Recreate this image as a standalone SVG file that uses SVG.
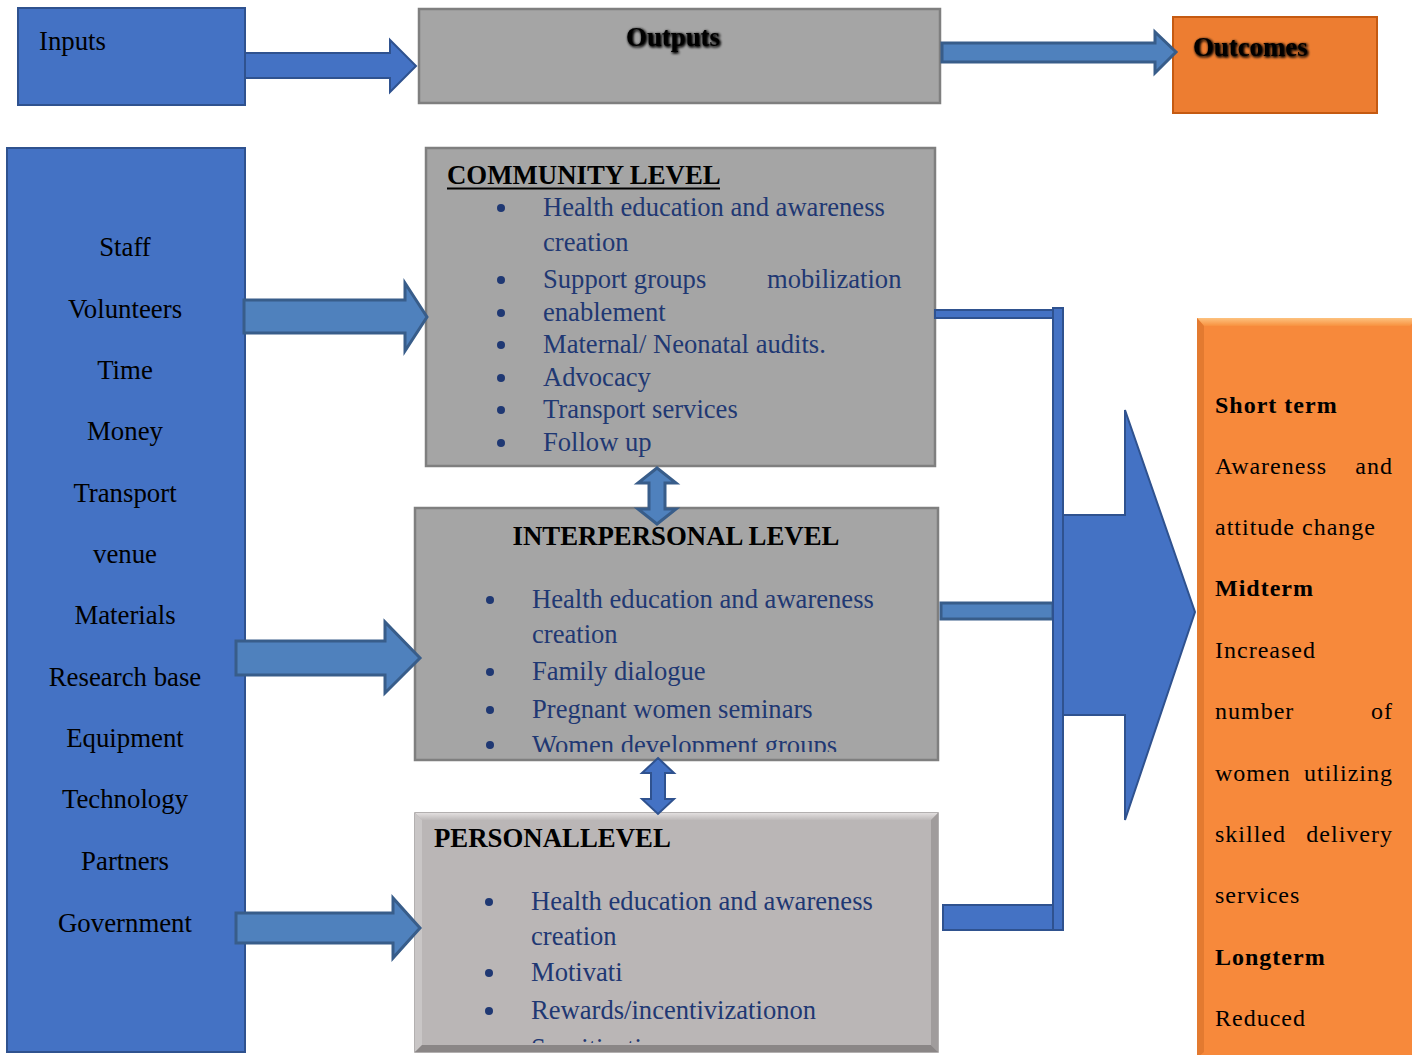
<svg xmlns="http://www.w3.org/2000/svg" width="1412" height="1055" viewBox="0 0 1412 1055">
<style>
.t{font-family:"Liberation Serif","Times New Roman",serif;font-size:26.8px;fill:#000}
.b{font-weight:bold}
.it{font-family:"Liberation Serif","Times New Roman",serif;font-size:26.6px;fill:#1F3873}
.or{font-family:"Liberation Serif","Times New Roman",serif;font-size:24px;letter-spacing:1px;fill:#000}
.blue{fill:#4472C4;stroke:#2F528F;stroke-width:2}
.blue2{fill:#4F81BD;stroke:#385D8A;stroke-width:3}
.grey{fill:#A5A5A5;stroke:#7F7F7F;stroke-width:2.5}
.dot{fill:#1F3873}
</style>
<defs>
<filter id="glow" x="-20%" y="-40%" width="140%" height="180%">
<feGaussianBlur in="SourceAlpha" stdDeviation="1.8" result="b"/>
<feOffset dx="1" dy="1" in="b" result="o"/>
<feMerge><feMergeNode in="o"/><feMergeNode in="o"/><feMergeNode in="SourceGraphic"/></feMerge>
</filter>
<clipPath id="clipI"><rect x="416" y="509" width="521" height="243"/></clipPath>
<clipPath id="clipP"><rect x="416" y="814" width="521" height="229"/></clipPath>
<linearGradient id="pgTop" x1="0" y1="0" x2="0" y2="1"><stop offset="0" stop-color="#E2DFDF"/><stop offset="1" stop-color="#BDB9B9"/></linearGradient>
<linearGradient id="ogTop" x1="0" y1="0" x2="0" y2="1"><stop offset="0" stop-color="#FDC27F"/><stop offset="1" stop-color="#F8913F"/></linearGradient>
</defs>

<g id="inputs">
<rect class="blue" x="18" y="8" width="227" height="97"/>
<text class="t" x="39" y="50">Inputs</text>
</g>

<g id="outputs">
<rect class="grey" x="419" y="9" width="521" height="94"/>
<text class="t b" x="673" y="46" text-anchor="middle" font-size="24" filter="url(#glow)">Outputs</text>
</g>

<g id="outcomes">
<rect x="1173" y="17" width="204" height="96" fill="#ED7D31" stroke="#C55A11" stroke-width="2"/>
<text class="t b" x="1193" y="56" font-size="25" filter="url(#glow)">Outcomes</text>
</g>

<g id="resources">
<rect class="blue" x="7" y="148" width="238" height="904"/>
<g class="t" text-anchor="middle">
<text x="125" y="256">Staff</text>
<text x="125" y="318">Volunteers</text>
<text x="125" y="379">Time</text>
<text x="125" y="440">Money</text>
<text x="125" y="502">Transport</text>
<text x="125" y="563">venue</text>
<text x="125" y="624">Materials</text>
<text x="125" y="686">Research base</text>
<text x="125" y="747">Equipment</text>
<text x="125" y="808">Technology</text>
<text x="125" y="870">Partners</text>
<text x="125" y="932">Government</text>
</g>
</g>

<g id="community">
<rect class="grey" x="426" y="148" width="509" height="318"/>
<text class="t b" x="447" y="184">COMMUNITY LEVEL</text>
<line x1="447" y1="188.5" x2="720" y2="188.5" stroke="#000" stroke-width="2"/>
<g class="dot">
<circle cx="501" cy="208" r="4"/><circle cx="501" cy="280" r="4"/><circle cx="501" cy="313" r="4"/><circle cx="501" cy="345" r="4"/><circle cx="501" cy="378" r="4"/><circle cx="501" cy="410" r="4"/><circle cx="501" cy="443" r="4"/>
</g>
<text class="it" x="543" y="216">Health education and awareness</text>
<text class="it" x="543" y="251">creation</text>
<text class="it" x="543" y="288">Support groups</text>
<text class="it" x="767" y="288">mobilization</text>
<text class="it" x="543" y="321">enablement</text>
<text class="it" x="543" y="353">Maternal/ Neonatal audits.</text>
<text class="it" x="543" y="386">Advocacy</text>
<text class="it" x="543" y="418">Transport services</text>
<text class="it" x="543" y="451">Follow up</text>
</g>

<g id="interpersonal">
<rect class="grey" x="415" y="508" width="523" height="252"/>
<text class="t b" x="676" y="545" text-anchor="middle">INTERPERSONAL LEVEL</text>
<g clip-path="url(#clipI)">
<g class="dot">
<circle cx="490" cy="600" r="4"/><circle cx="490" cy="672" r="4"/><circle cx="490" cy="710" r="4"/><circle cx="490" cy="745" r="4"/>
</g>
<text class="it" x="532" y="608">Health education and awareness</text>
<text class="it" x="532" y="643">creation</text>
<text class="it" x="532" y="680">Family dialogue</text>
<text class="it" x="532" y="718">Pregnant women seminars</text>
<text class="it" x="532" y="754">Women development groups</text>
</g>
</g>

<g id="personal">
<rect x="415" y="813" width="523" height="239" fill="#BAB6B6" stroke="#9A9696" stroke-width="1.5"/>
<polygon points="415,813 938,813 931,820 422,820" fill="url(#pgTop)"/>
<polygon points="415,813 422,820 422,1045 415,1052" fill="#C9C6C6"/>
<polygon points="938,813 931,820 931,1045 938,1052" fill="#A09C9C"/>
<polygon points="415,1052 422,1045 931,1045 938,1052" fill="#8A8686"/>
<text class="t b" x="434" y="847">PERSONALLEVEL</text>
<g clip-path="url(#clipP)">
<g class="dot">
<circle cx="489" cy="902" r="4"/><circle cx="489" cy="973" r="4"/><circle cx="489" cy="1011" r="4"/>
</g>
<text class="it" x="531" y="910">Health education and awareness</text>
<text class="it" x="531" y="945">creation</text>
<text class="it" x="531" y="981">Motivati</text>
<text class="it" x="531" y="1019">Rewards/incentivizationon</text>
<text class="it" x="531" y="1057">Sensitization</text>
</g>
</g>

<g id="results">
<rect x="1197" y="318" width="220" height="740" fill="#F7893B"/>
<polygon points="1197,318 1417,318 1410,326 1204,326" fill="url(#ogTop)"/>
<polygon points="1197,318 1204,326 1204,1052 1197,1058" fill="#E37A30"/>
<text class="or b" x="1215" y="413">Short term</text>
<text class="or" x="1215" y="474">Awareness</text>
<text class="or" x="1393" y="474" text-anchor="end">and</text>
<text class="or" x="1215" y="535">attitude change</text>
<text class="or b" x="1215" y="596">Midterm</text>
<text class="or" x="1215" y="658">Increased</text>
<text class="or" x="1215" y="719">number</text>
<text class="or" x="1393" y="719" text-anchor="end">of</text>
<text class="or" x="1215" y="781">women</text>
<text class="or" x="1393" y="781" text-anchor="end">utilizing</text>
<text class="or" x="1215" y="842">skilled</text>
<text class="or" x="1393" y="842" text-anchor="end">delivery</text>
<text class="or" x="1215" y="903">services</text>
<text class="or b" x="1215" y="965">Longterm</text>
<text class="or" x="1215" y="1026">Reduced</text>
</g>

<g id="connectors">
<polygon class="blue" points="245,53 390,53 390,40 416,66 390,92 390,78 245,78"/>
<polygon class="blue2" points="942,43 1155,43 1155,32 1176,52 1155,73 1155,62 942,62"/>
<polygon class="blue2" points="244,300 405,300 405,283 427,317 405,351 405,333 244,333"/>
<polygon class="blue2" points="236,641 385,641 385,622 420,658 385,693 385,675 236,675"/>
<polygon class="blue2" points="236,913 393,913 393,898 420,928 393,958 393,943 236,943"/>
<polygon class="blue2" points="657,468 676,483 665,483 665,509 676,509 657,524 638,509 649,509 649,483 638,483"/>
<polygon class="blue" points="658,758 674,773 665,773 665,799 674,799 658,814 642,799 651,799 651,773 642,773"/>
<rect class="blue" x="935" y="310" width="118" height="8"/>
<rect class="blue2" x="941" y="603" width="112" height="16"/>
<rect class="blue" x="943" y="905" width="110" height="25"/>
<rect class="blue" x="1053" y="308" width="10" height="622"/>
<polygon class="blue" points="1063,515 1125,515 1125,410 1195,612 1125,820 1125,715 1063,715"/>
</g>
</svg>
